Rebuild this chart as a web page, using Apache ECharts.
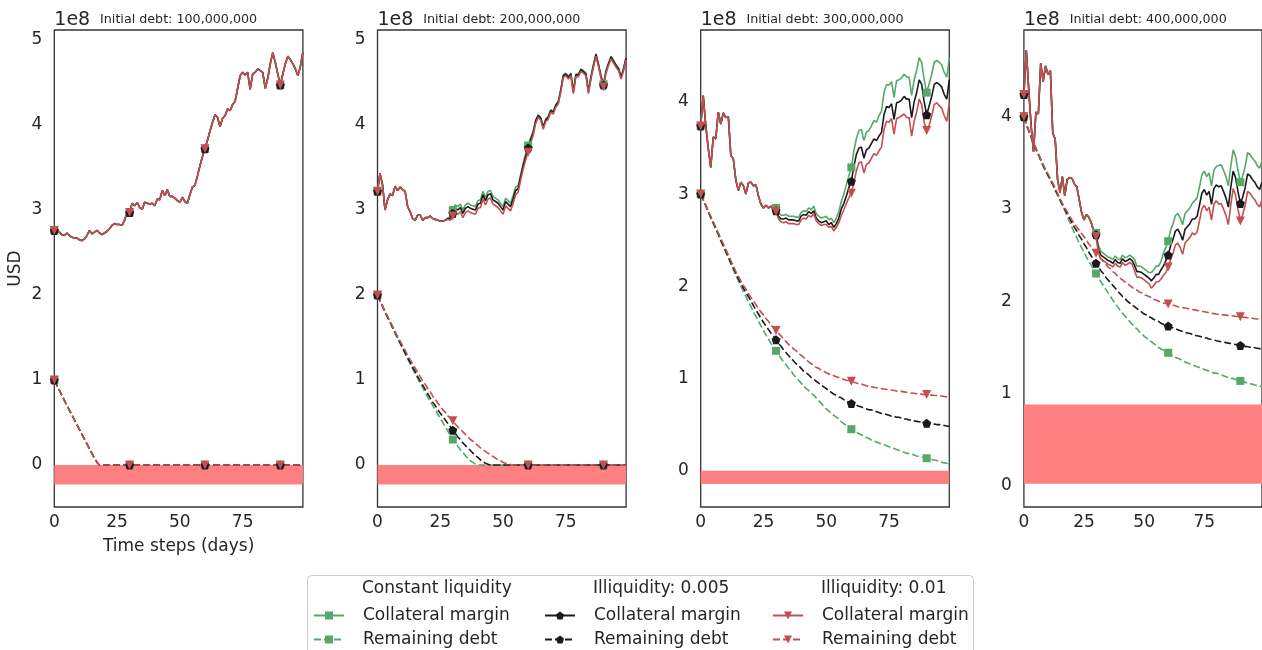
<!DOCTYPE html>
<html><head><meta charset="utf-8">
<script src="https://cdn.jsdelivr.net/npm/echarts@6/dist/echarts.min.js"></script>
<style>html,body{margin:0;padding:0;background:#fff}#c{width:1262px;height:650px}</style>
</head><body><div id="c"></div>
<script>
// ---------- labels / ticks ----------
const panelTitles = ['Initial debt: 100,000,000','Initial debt: 200,000,000','Initial debt: 300,000,000','Initial debt: 400,000,000'];
const liquidityLabels = ['Constant liquidity','Illiquidity: 0.005','Illiquidity: 0.01'];
const seriesKinds = ['Collateral margin','Remaining debt'];
const xTicks = [0,25,50,75];
const yTicks = [[0,1,2,3,4,5],[0,1,2,3,4,5],[0,1,2,3,4],[0,1,2,3,4]];
const yRanges = [[-0.494,5.118],[-0.494,5.118],[-0.394,4.78],[-0.232,4.94]];
const bandRanges = [[-0.23,0],[-0.23,0],[-0.145,0],[0.02,0.88]];
const scaleLabel = '1e8';

// ---------- values (units of 1e8 USD), day 0..99 ----------
const p1CM = [2.76,2.77,2.74,2.71,2.70,2.73,2.70,2.68,2.67,2.67,
2.65,2.64,2.66,2.70,2.76,2.72,2.74,2.76,2.73,2.71,
2.73,2.75,2.78,2.82,2.84,2.83,2.83,2.82,2.88,2.98,
2.97,3.08,3.05,3.09,3.03,3.01,3.09,3.08,3.07,3.08,
3.05,3.13,3.12,3.23,3.17,3.24,3.16,3.16,3.14,3.11,
3.09,3.15,3.10,3.08,3.18,3.27,3.29,3.40,3.52,3.63,
3.72,3.82,3.93,4.03,4.12,4.09,3.98,4.08,4.11,4.19,
4.17,4.24,4.28,4.43,4.58,4.62,4.59,4.62,4.42,4.60,
4.62,4.66,4.64,4.62,4.43,4.55,4.72,4.85,4.74,4.60,
4.47,4.60,4.72,4.81,4.77,4.72,4.66,4.58,4.69,4.86];
const p1Debt = [1.00,0.94,0.88,0.82,0.76,0.70,0.645,0.59,0.53,0.475,
0.42,0.36,0.305,0.25,0.19,0.135,0.08,0.03,0,0,
0,0,0,0,0,0,0,0,0,0, 0,0,0,0,0,0,0,0,0,0,
0,0,0,0,0,0,0,0,0,0, 0,0,0,0,0,0,0,0,0,0,
0,0,0,0,0,0,0,0,0,0, 0,0,0,0,0,0,0,0,0,0,
0,0,0,0,0,0,0,0,0,0, 0,0,0,0,0,0,0,0,0,0];

const p2CMConst = [3.22,3.43,3.30,3.00,3.12,3.19,3.17,3.28,3.23,3.27,
3.24,3.22,3.04,2.98,2.90,2.88,2.94,2.94,2.88,2.91,
2.91,2.93,2.90,2.89,2.88,2.87,2.87,2.88,2.90,2.93,
3.00,3.06,3.04,3.07,3.00,3.06,3.08,3.06,3.05,3.04,
3.11,3.12,3.22,3.15,3.22,3.23,3.16,3.14,3.12,3.08,
3.04,3.14,3.11,3.08,3.17,3.27,3.29,3.42,3.55,3.66,
3.76,3.85,3.93,4.06,4.12,4.09,3.98,4.07,4.10,4.18,
4.16,4.24,4.28,4.42,4.59,4.61,4.57,4.61,4.40,4.60,
4.60,4.66,4.64,4.61,4.40,4.57,4.71,4.84,4.72,4.58,
4.48,4.64,4.73,4.81,4.76,4.71,4.67,4.57,4.67,4.80];
const p2CMIll005 = [3.22,3.43,3.30,3.00,3.12,3.19,3.17,3.28,3.23,3.27,
3.24,3.22,3.04,2.98,2.90,2.88,2.94,2.94,2.88,2.91,
2.91,2.93,2.90,2.89,2.88,2.87,2.87,2.88,2.90,2.90,
2.96,3.02,3.00,3.03,2.96,3.02,3.04,3.02,3.01,3.00,
3.07,3.08,3.18,3.11,3.18,3.19,3.12,3.10,3.08,3.04,
3.00,3.10,3.07,3.04,3.13,3.23,3.25,3.39,3.52,3.63,
3.73,3.83,3.91,4.05,4.11,4.08,3.97,4.06,4.09,4.17,
4.15,4.23,4.27,4.41,4.58,4.60,4.56,4.60,4.39,4.59,
4.59,4.65,4.63,4.60,4.39,4.56,4.70,4.83,4.71,4.57,
4.47,4.63,4.72,4.80,4.75,4.70,4.66,4.56,4.66,4.79];
const p2CMIll01 = [3.22,3.43,3.30,3.00,3.12,3.19,3.17,3.28,3.23,3.27,
3.24,3.22,3.04,2.98,2.90,2.88,2.94,2.94,2.88,2.91,
2.91,2.93,2.90,2.89,2.88,2.87,2.87,2.88,2.89,2.88,
2.93,2.97,2.95,2.98,2.91,2.97,2.99,2.97,2.96,2.95,
3.02,3.03,3.13,3.06,3.13,3.14,3.07,3.05,3.03,2.99,
2.95,3.05,3.02,2.99,3.08,3.18,3.21,3.35,3.48,3.59,
3.68,3.79,3.88,4.02,4.09,4.06,3.95,4.04,4.07,4.15,
4.13,4.21,4.25,4.39,4.56,4.58,4.54,4.58,4.37,4.57,
4.57,4.63,4.61,4.58,4.37,4.54,4.68,4.81,4.69,4.55,
4.45,4.61,4.70,4.78,4.73,4.68,4.64,4.54,4.64,4.77];
const p2DebtConst = [2.00,1.93,1.87,1.80,1.74,1.68,1.61,1.55,1.49,1.43,
1.37,1.31,1.25,1.19,1.13,1.07,1.02,0.96,0.91,0.85,
0.80,0.75,0.70,0.65,0.60,0.55,0.50,0.45,0.40,0.35,
0.30,0.26,0.22,0.18,0.15,0.11,0.08,0.05,0.03,0.01,
0,0,0,0,0,0,0,0,0,0, 0,0,0,0,0,0,0,0,0,0,
0,0,0,0,0,0,0,0,0,0, 0,0,0,0,0,0,0,0,0,0,
0,0,0,0,0,0,0,0,0,0, 0,0,0,0,0,0,0,0,0,0];
const p2DebtIll005 = [2.00,1.93,1.87,1.80,1.74,1.68,1.62,1.56,1.50,1.44,
1.38,1.32,1.26,1.21,1.15,1.10,1.04,0.99,0.94,0.89,
0.84,0.79,0.74,0.70,0.65,0.61,0.57,0.53,0.49,0.45,
0.41,0.37,0.33,0.30,0.26,0.23,0.20,0.17,0.14,0.11,
0.09,0.06,0.04,0.02,0.01,0,0,0,0,0,
0,0,0,0,0,0,0,0,0,0, 0,0,0,0,0,0,0,0,0,0,
0,0,0,0,0,0,0,0,0,0, 0,0,0,0,0,0,0,0,0,0,
0,0,0,0,0,0,0,0,0,0];
const p2DebtIll01 = [2.00,1.94,1.87,1.81,1.75,1.69,1.63,1.57,1.51,1.46,
1.40,1.35,1.29,1.24,1.19,1.14,1.09,1.04,0.99,0.95,
0.90,0.86,0.81,0.77,0.73,0.69,0.65,0.62,0.58,0.55,
0.52,0.48,0.45,0.42,0.39,0.36,0.33,0.30,0.28,0.25,
0.23,0.20,0.18,0.16,0.14,0.12,0.10,0.08,0.06,0.05,
0.03,0.02,0.01,0.005,0,0,0,0,0,0,
0,0,0,0,0,0,0,0,0,0, 0,0,0,0,0,0,0,0,0,0,
0,0,0,0,0,0,0,0,0,0, 0,0,0,0,0,0,0,0,0,0];

const p3CMConst = [3.74,4.07,3.75,3.50,3.29,3.62,3.60,3.89,3.76,3.88,
3.83,3.84,3.42,3.38,3.15,3.04,3.13,3.09,3.00,3.12,
3.13,3.09,3.10,2.98,2.89,2.85,2.88,2.85,2.87,2.85,
2.85,2.80,2.77,2.77,2.78,2.76,2.76,2.76,2.75,2.75,
2.80,2.82,2.81,2.85,2.83,2.87,2.79,2.76,2.74,2.75,
2.76,2.72,2.74,2.69,2.74,2.81,2.92,3.00,3.10,3.20,
3.29,3.47,3.60,3.69,3.70,3.58,3.67,3.69,3.74,3.80,
3.78,3.85,3.90,4.10,4.19,4.18,4.22,4.05,4.23,4.24,
4.26,4.30,4.27,4.27,4.07,4.24,4.34,4.48,4.43,4.24,
4.10,4.20,4.30,4.43,4.45,4.43,4.40,4.32,4.27,4.48];
const p3CMIll005 = [3.74,4.07,3.75,3.50,3.29,3.62,3.60,3.89,3.76,3.88,
3.83,3.84,3.42,3.38,3.15,3.04,3.13,3.09,3.00,3.12,
3.13,3.09,3.10,2.98,2.89,2.85,2.88,2.85,2.87,2.83,
2.82,2.76,2.73,2.73,2.74,2.72,2.72,2.72,2.71,2.71,
2.76,2.78,2.77,2.81,2.79,2.82,2.74,2.71,2.69,2.70,
2.71,2.67,2.69,2.64,2.68,2.74,2.84,2.90,2.98,3.07,
3.14,3.30,3.43,3.50,3.51,3.39,3.48,3.50,3.55,3.60,
3.58,3.63,3.67,3.86,3.95,3.94,3.98,3.81,3.99,4.00,
4.02,4.06,4.03,4.03,3.83,4.00,4.10,4.24,4.19,4.00,
3.86,3.96,4.06,4.19,4.21,4.19,4.16,4.08,4.03,4.24];
const p3CMIll01 = [3.74,4.07,3.75,3.50,3.29,3.62,3.60,3.89,3.76,3.88,
3.83,3.84,3.42,3.38,3.15,3.04,3.13,3.09,3.00,3.12,
3.13,3.09,3.10,2.98,2.89,2.85,2.88,2.85,2.87,2.82,
2.81,2.73,2.70,2.69,2.70,2.68,2.68,2.68,2.67,2.67,
2.72,2.74,2.73,2.77,2.75,2.79,2.71,2.68,2.66,2.67,
2.67,2.64,2.65,2.60,2.64,2.69,2.77,2.83,2.90,2.96,
3.01,3.13,3.25,3.34,3.35,3.23,3.32,3.34,3.39,3.44,
3.42,3.47,3.51,3.70,3.79,3.78,3.82,3.65,3.82,3.83,
3.85,3.87,3.83,3.83,3.63,3.79,3.89,4.03,3.97,3.78,
3.69,3.75,3.85,3.97,3.99,3.96,3.93,3.85,3.79,3.99];
const p3DebtConst = [3.00,2.94,2.87,2.81,2.74,2.68,2.62,2.56,2.49,2.43,
2.37,2.31,2.24,2.18,2.12,2.06,2.00,1.94,1.89,1.83,
1.78,1.72,1.67,1.62,1.57,1.52,1.47,1.43,1.38,1.34,
1.30,1.26,1.22,1.18,1.15,1.11,1.08,1.04,1.01,0.98,
0.95,0.92,0.89,0.87,0.84,0.82,0.79,0.76,0.73,0.70,
0.67,0.65,0.62,0.60,0.58,0.56,0.53,0.51,0.49,0.47,
0.45,0.43,0.42,0.40,0.39,0.37,0.36,0.35,0.33,0.32,
0.31,0.30,0.29,0.28,0.27,0.26,0.25,0.24,0.23,0.22,
0.21,0.20,0.19,0.185,0.18,0.17,0.16,0.155,0.15,0.14,
0.135,0.13,0.12,0.115,0.11,0.10,0.09,0.085,0.08,0.07];
const p3DebtIll005 = [3.00,2.94,2.88,2.81,2.75,2.69,2.63,2.57,2.50,2.44,
2.38,2.32,2.26,2.20,2.14,2.08,2.03,1.98,1.93,1.89,
1.84,1.79,1.74,1.70,1.65,1.61,1.57,1.53,1.49,1.46,
1.42,1.38,1.35,1.31,1.28,1.25,1.22,1.19,1.16,1.14,
1.11,1.08,1.06,1.04,1.01,0.99,0.97,0.95,0.93,0.91,
0.89,0.87,0.85,0.83,0.82,0.80,0.79,0.77,0.76,0.74,
0.73,0.72,0.71,0.70,0.69,0.68,0.67,0.66,0.66,0.65,
0.64,0.63,0.62,0.62,0.61,0.60,0.59,0.59,0.58,0.58,
0.57,0.56,0.56,0.55,0.55,0.54,0.535,0.53,0.525,0.52,
0.515,0.51,0.51,0.505,0.50,0.50,0.495,0.49,0.485,0.48];
const p3DebtIll01 = [3.00,2.94,2.88,2.82,2.76,2.70,2.64,2.58,2.52,2.46,
2.40,2.34,2.28,2.22,2.16,2.11,2.06,2.01,1.97,1.92,
1.88,1.84,1.80,1.76,1.72,1.69,1.65,1.62,1.58,1.55,
1.52,1.49,1.46,1.43,1.40,1.37,1.35,1.32,1.30,1.27,
1.25,1.23,1.20,1.18,1.16,1.14,1.12,1.11,1.09,1.08,
1.06,1.05,1.04,1.03,1.02,1.01,1.00,0.99,0.98,0.975,
0.97,0.96,0.95,0.945,0.94,0.93,0.92,0.915,0.91,0.905,
0.90,0.895,0.89,0.885,0.88,0.88,0.875,0.87,0.865,0.86,
0.86,0.855,0.85,0.845,0.84,0.84,0.835,0.83,0.83,0.825,
0.825,0.82,0.82,0.815,0.815,0.81,0.81,0.805,0.80,0.80];

const p4CMConst = [4.24,4.72,4.30,3.90,3.62,4.05,4.03,4.58,4.38,4.55,
4.46,4.50,3.82,3.76,3.32,3.18,3.35,3.14,3.32,3.34,
3.33,3.27,3.24,3.10,2.96,2.88,2.94,2.91,2.85,2.76,
2.74,2.60,2.54,2.52,2.50,2.48,2.47,2.45,2.49,2.46,
2.45,2.50,2.47,2.48,2.50,2.48,2.45,2.38,2.38,2.37,
2.35,2.33,2.31,2.31,2.34,2.38,2.38,2.43,2.52,2.58,
2.65,2.77,2.84,2.93,2.95,2.90,2.83,2.95,2.98,3.01,
3.06,3.09,3.12,3.24,3.37,3.41,3.35,3.39,3.25,3.42,
3.46,3.47,3.48,3.42,3.35,3.25,3.46,3.64,3.57,3.42,
3.29,3.36,3.46,3.61,3.59,3.55,3.52,3.47,3.44,3.52];
const p4CMIll005 = [4.24,4.72,4.30,3.90,3.62,4.05,4.03,4.58,4.38,4.55,
4.46,4.50,3.82,3.76,3.32,3.18,3.35,3.14,3.32,3.34,
3.33,3.27,3.24,3.10,2.96,2.88,2.94,2.91,2.85,2.76,
2.72,2.56,2.50,2.48,2.46,2.44,2.43,2.41,2.45,2.42,
2.41,2.46,2.43,2.44,2.46,2.44,2.39,2.32,2.32,2.31,
2.29,2.27,2.25,2.22,2.25,2.29,2.29,2.34,2.38,2.44,
2.50,2.60,2.67,2.76,2.78,2.73,2.66,2.78,2.81,2.84,
2.89,2.89,2.92,3.04,3.17,3.21,3.15,3.19,3.05,3.22,
3.26,3.24,3.25,3.19,3.12,3.02,3.23,3.41,3.34,3.19,
3.06,3.13,3.23,3.38,3.36,3.32,3.29,3.24,3.21,3.29];
const p4CMIll01 = [4.24,4.72,4.30,3.90,3.62,4.05,4.03,4.58,4.38,4.55,
4.46,4.50,3.82,3.76,3.32,3.18,3.35,3.14,3.32,3.34,
3.33,3.27,3.24,3.10,2.96,2.88,2.94,2.91,2.85,2.76,
2.70,2.52,2.46,2.44,2.42,2.40,2.39,2.37,2.41,2.38,
2.37,2.42,2.39,2.40,2.42,2.40,2.33,2.26,2.26,2.25,
2.23,2.21,2.19,2.14,2.17,2.21,2.21,2.24,2.28,2.31,
2.37,2.45,2.52,2.61,2.63,2.58,2.51,2.63,2.66,2.69,
2.74,2.72,2.75,2.87,3.00,3.04,2.98,3.02,2.88,3.05,
3.09,3.05,3.06,3.00,2.93,2.83,3.04,3.22,3.15,3.00,
2.87,2.94,3.04,3.19,3.17,3.13,3.10,3.05,3.02,3.10];
const p4DebtConst = [4.00,3.92,3.85,3.78,3.71,3.65,3.59,3.53,3.47,3.41,
3.36,3.31,3.26,3.20,3.15,3.09,3.04,2.98,2.92,2.86,
2.80,2.74,2.69,2.63,2.58,2.53,2.48,2.43,2.39,2.34,
2.30,2.25,2.21,2.17,2.13,2.09,2.05,2.01,1.97,1.94,
1.90,1.87,1.84,1.81,1.78,1.75,1.72,1.70,1.67,1.65,
1.62,1.60,1.58,1.56,1.54,1.52,1.50,1.48,1.47,1.45,
1.44,1.42,1.41,1.39,1.38,1.37,1.35,1.34,1.33,1.32,
1.31,1.30,1.29,1.28,1.27,1.26,1.25,1.24,1.23,1.22,
1.22,1.21,1.20,1.19,1.18,1.17,1.165,1.16,1.15,1.14,
1.135,1.13,1.12,1.11,1.105,1.10,1.09,1.085,1.08,1.07];
const p4DebtIll005 = [4.00,3.92,3.85,3.78,3.71,3.65,3.59,3.53,3.47,3.42,
3.37,3.32,3.27,3.21,3.16,3.10,3.05,3.00,2.95,2.90,
2.85,2.80,2.76,2.71,2.67,2.62,2.58,2.53,2.49,2.45,
2.41,2.37,2.33,2.30,2.26,2.23,2.20,2.17,2.14,2.11,
2.08,2.05,2.03,2.00,1.98,1.96,1.94,1.92,1.90,1.88,
1.86,1.85,1.83,1.82,1.80,1.79,1.78,1.76,1.75,1.74,
1.73,1.72,1.71,1.70,1.69,1.68,1.67,1.66,1.655,1.65,
1.64,1.63,1.625,1.62,1.61,1.605,1.60,1.59,1.585,1.58,
1.57,1.565,1.56,1.555,1.55,1.545,1.54,1.535,1.53,1.525,
1.52,1.515,1.51,1.505,1.50,1.50,1.495,1.49,1.485,1.48];
const p4DebtIll01 = [4.00,3.92,3.85,3.78,3.72,3.66,3.60,3.54,3.48,3.43,
3.38,3.33,3.28,3.23,3.17,3.11,3.06,3.01,2.97,2.92,
2.88,2.84,2.80,2.77,2.73,2.70,2.66,2.62,2.59,2.55,
2.52,2.49,2.46,2.43,2.40,2.37,2.35,2.32,2.30,2.27,
2.25,2.23,2.21,2.19,2.17,2.15,2.13,2.12,2.10,2.09,
2.07,2.06,2.05,2.04,2.02,2.01,2.00,1.99,1.98,1.975,
1.97,1.96,1.955,1.95,1.94,1.935,1.93,1.925,1.92,1.915,
1.91,1.905,1.90,1.895,1.89,1.885,1.88,1.875,1.87,1.865,
1.86,1.857,1.854,1.851,1.848,1.845,1.842,1.839,1.836,1.833,
1.83,1.827,1.824,1.82,1.817,1.814,1.81,1.807,1.803,1.80];

const panelCM = [[p1CM,p1CM,p1CM],[p2CMConst,p2CMIll005,p2CMIll01],[p3CMConst,p3CMIll005,p3CMIll01],[p4CMConst,p4CMIll005,p4CMIll01]];
const panelDebt = [[p1Debt,p1Debt,p1Debt],[p2DebtConst,p2DebtIll005,p2DebtIll01],[p3DebtConst,p3DebtIll005,p3DebtIll01],[p4DebtConst,p4DebtIll005,p4DebtIll01]];

// ---------- styling ----------
const FONT = 'DejaVu Sans';
const TXT = '#262626';
const FS = 17;
const colors = ['#55a868','#1a1a1a','#c44e52'];
const pentagon = 'path://M0,-1L0.951,-0.309L0.588,0.809L-0.588,0.809L-0.951,-0.309Z';
const symbols = ['rect', pentagon, 'triangle'];
const symbolRot = [0, 0, 180];
const symSizes = [8, 9, 9];
const gridLeft0 = 54.3, gridStep = 323.2, gridW = 248.6, gridTop = 30, gridH = 477;

const grids = [], xAxes = [], yAxes = [], series = [], graphics = [];
for (let i = 0; i < 4; i++) {
  const left = gridLeft0 + i * gridStep;
  grids.push({left: left, top: gridTop, width: gridW, height: gridH, show: true,
    borderColor: '#333333', borderWidth: 1.3, backgroundColor: 'transparent'});
  xAxes.push({gridIndex: i, type: 'value', min: 0, max: 99,
    axisLine: {show: false}, axisTick: {show: false}, splitLine: {show: false},
    axisLabel: {customValues: xTicks, fontSize: FS, color: TXT, fontFamily: FONT, margin: 7},
    name: i === 0 ? 'Time steps (days)' : '', nameLocation: 'middle', nameGap: 31,
    nameTextStyle: {fontSize: FS, color: TXT, fontFamily: FONT}});
  yAxes.push({gridIndex: i, type: 'value', min: yRanges[i][0], max: yRanges[i][1],
    axisLine: {show: false}, axisTick: {show: false}, splitLine: {show: false},
    axisLabel: {customValues: yTicks[i], fontSize: FS, color: TXT, fontFamily: FONT, margin: 12},
    name: i === 0 ? 'USD' : '', nameLocation: 'middle', nameGap: 30, nameRotate: 90,
    nameTextStyle: {fontSize: FS, color: TXT, fontFamily: FONT}});
  // band
  series.push({type: 'line', xAxisIndex: i, yAxisIndex: i, data: [], z: 1, silent: true,
    markArea: {silent: true, itemStyle: {color: '#ff8080', opacity: 1},
      data: [[{yAxis: bandRanges[i][0]}, {yAxis: bandRanges[i][1]}]]}});
  for (let j = 0; j < 3; j++) {
    const mk = (arr, kind, dashed) => ({
      type: 'line', name: liquidityLabels[j] + '|' + seriesKinds[kind],
      xAxisIndex: i, yAxisIndex: i, z: 3,
      data: arr.map((v, d) => [d, v]),
      symbol: symbols[j], symbolRotate: symbolRot[j], showAllSymbol: true,
      symbolSize: (v, p) => (p.dataIndex % 30 === 0 ? symSizes[j] : 0),
      itemStyle: {color: colors[j]},
      lineStyle: {color: colors[j], width: 1.6, type: dashed ? [7, 3] : 'solid'},
      emphasis: {disabled: true}, clip: true
    });
    series.push(mk(panelCM[i][j], 0, false));
    series.push(mk(panelDebt[i][j], 1, true));
  }
  graphics.push({type: 'text', x: left, y: 20, style: {text: scaleLabel, fontSize: 19, fill: TXT, fontFamily: FONT, verticalAlign: 'middle'}});
  graphics.push({type: 'text', x: left + gridW / 2, y: 20, style: {text: panelTitles[i], fontSize: 12.7, fill: TXT, fontFamily: FONT, align: 'center', verticalAlign: 'middle'}});
}

// legend frame and headers
graphics.push({type: 'rect', z: -1, shape: {x: 307.5, y: 575.5, width: 666, height: 90, r: 4},
  style: {fill: '#ffffff', stroke: '#cccccc', lineWidth: 1}});
const legendCols = [313, 544, 772];
const headerX = [362, 593, 821];
liquidityLabels.forEach((lab, j) => {
  graphics.push({type: 'text', x: headerX[j], y: 589, style: {text: lab, fontSize: FS, fill: TXT, fontFamily: FONT, verticalAlign: 'middle'}});
});
const legends = liquidityLabels.map((lab, j) => ({
  orient: 'vertical', left: legendCols[j], top: 607, padding: 0, itemWidth: 30, itemHeight: 10, itemGap: 7,
  data: seriesKinds.map(k => lab + '|' + k),
  formatter: n => n.split('|')[1],
  selectedMode: false,
  textStyle: {fontSize: FS, color: TXT, fontFamily: FONT, padding: [0, 0, 0, 14]}
}));

const chart = echarts.init(document.getElementById('c'), null, {renderer: 'canvas'});
chart.setOption({
  animation: false, backgroundColor: '#ffffff',
  grid: grids, xAxis: xAxes, yAxis: yAxes, series: series,
  legend: legends, graphic: graphics
});
</script></body></html>
